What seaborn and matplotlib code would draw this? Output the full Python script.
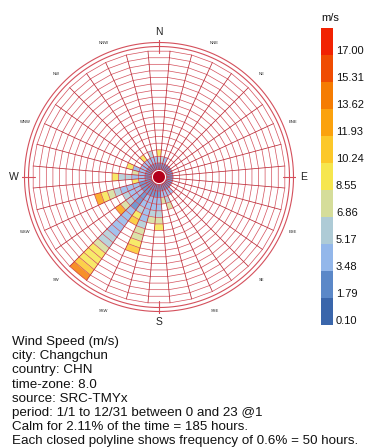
import numpy as np
import matplotlib
matplotlib.use("Agg")
import matplotlib.pyplot as plt
import seaborn as sns

# wind directions (bin centres, degrees clockwise from N)
directions = list(range(0, 360, 10))

# mean wind speed (m/s) of each 50-hour cell, stacked outward from the calm circle
cell_speeds = [
    [2.5, 4.5, 8.5],                      # 0
    [2.0, 5.5],                           # 10
    [1.8, 4.0],                           # 20
    [2.0], [2.0], [1.5], [1.5], [1.8],    # 30-70
    [2.0], [2.0], [2.0], [1.8], [2.0],    # 80-120
    [2.0],                                # 130
    [2.0, 3.5],                           # 140
    [2.0, 3.5],                           # 150
    [1.8, 3.2, 5.0, 7.5],                 # 160
    [2.0, 3.8, 6.5],                      # 170
    [1.5, 2.5, 3.3, 4.0, 5.2, 6.8, 8.5],  # 180
    [1.5, 2.5, 3.3, 4.2, 5.5, 7.5],       # 190
    [1.2, 2.0, 2.8, 3.3, 3.8, 4.3, 5.2, 6.2, 7.0, 8.5, 10.0],  # 200
    [1.2, 2.0, 2.8, 3.5, 4.5, 8.0, 11.0],  # 210
    [1.0, 1.4, 1.8, 2.2, 2.6, 3.0, 3.3, 3.6, 3.9, 4.3, 4.8, 5.5,
     6.8, 8.0, 8.6, 9.0, 11.0, 14.0],     # 220
    [1.2, 2.0, 2.8, 3.5, 4.5, 7.0, 11.5],  # 230
    [1.5, 2.5, 3.3, 4.2, 5.5],            # 240
    [1.2, 2.0, 2.8, 3.5, 4.2, 5.0, 6.5, 8.5, 11.5],  # 250
    [2.0, 3.5, 8.0],                      # 260
    [1.8, 2.8, 3.5, 4.5, 6.0, 8.5],       # 270
    [2.0, 4.0, 6.5],                      # 280
    [2.0, 3.0, 4.0, 9.0],                 # 290
    [2.0, 3.5],                           # 300
    [2.0, 4.0],                           # 310
    [2.0, 3.5, 8.0],                      # 320
    [2.0, 4.0],                           # 330
    [2.0, 4.0, 6.0],                      # 340
    [2.0, 4.0],                           # 350
]

legend_values = [0.10, 1.79, 3.48, 5.17, 6.86, 8.55, 10.24, 11.93, 13.62, 15.31, 17.00]
legend_colors = ['#3a66ab', '#5b88c8', '#93b7ea', '#aecbd6', '#d5dd9a', '#f6e64e',
                 '#fcc82a', '#fba20e', '#f57c02', '#ef4c02', '#f12202']

compass_labels = ['N', 'NNE', 'NE', 'ENE', 'E', 'ESE', 'SE', 'SSE',
                  'S', 'SSW', 'SW', 'WSW', 'W', 'WNW', 'NW', 'NNW']

info_lines = [
    'Wind Speed (m/s)',
    'city: Changchun',
    'country: CHN',
    'time-zone: 8.0',
    'source: SRC-TMYx',
    'period: 1/1 to 12/31 between 0 and 23 @1',
    'Calm for 2.11% of the time = 185 hours.',
    'Each closed polyline shows frequency of 0.6% = 50 hours.',
]

sns.set_style("white")
plt.rcParams['font.family'] = ['Liberation Sans', 'DejaVu Sans']
palette = sns.color_palette(legend_colors)
# cells inside the rose look a little washed out
cell_palette = [tuple(0.85 * np.array(c) + 0.15) for c in palette]

W, H = 387, 448
fig = plt.figure(figsize=(W / 100, H / 100), dpi=100)

# geometry in pixels -> ring units
ring_px = 6.6
cx, cy = 159, 177
r_out_px = 137
hole = 7.5 / ring_px
n_rings = 18
rmax = r_out_px / ring_px

ax = fig.add_axes([(cx - r_out_px) / W, (H - cy - r_out_px) / H,
                   2 * r_out_px / W, 2 * r_out_px / H], projection='polar')
ax.set_theta_zero_location('N')
ax.set_theta_direction(-1)
ax.set_ylim(0, rmax)
ax.set_axis_off()

# stacked cells
thetas, bottoms, cols = [], [], []
for d, speeds in zip(directions, cell_speeds):
    for i, v in enumerate(speeds):
        k = int(np.clip(round((v - legend_values[0]) / (legend_values[1] - legend_values[0])), 0, 10))
        thetas.append(np.radians(d))
        bottoms.append(hole + i)
        cols.append(cell_palette[k])
ax.bar(thetas, 1, width=np.radians(10), bottom=bottoms, color=cols,
       edgecolor='none', linewidth=0, zorder=1)

ring_red = '#d4505c'
spoke_red = '#bb2a36'
edges = np.radians(np.arange(5, 366, 10))
for i in range(n_rings + 1):
    ax.plot(edges, np.full(edges.size, hole + i), color=ring_red, lw=0.5, zorder=3)
for e in edges[:-1]:
    ax.plot([e, e], [hole, hole + n_rings], color=spoke_red, lw=0.55, zorder=3)

circ = np.linspace(0, 2 * np.pi, 361)
for rp in (130.5, 134.5):
    ax.plot(circ, np.full(circ.size, rp / ring_px), color=ring_red, lw=0.8, zorder=3)
for t in np.radians([0, 90, 180, 270]):
    ax.plot([t, t], [124 / ring_px, 141 / ring_px], color=ring_red, lw=0.8, zorder=3)

# calm circle
ax.bar(0, 6 / ring_px, width=2 * np.pi, bottom=0, color='#b3001b', edgecolor='none', zorder=4)

for j, lab in enumerate(compass_labels):
    big = j % 4 == 0
    ax.text(np.radians(j * 22.5), 145 / ring_px, lab, ha='center', va='center',
            fontsize=7.5 if big else 3, color='#222222', clip_on=False)

# legend
lax = fig.add_axes([321 / W, (H - 325) / H, 12 / W, 297 / H])
lax.bar(np.zeros(len(legend_colors)), 1, bottom=np.arange(len(legend_colors)),
        width=1, color=palette, align='edge', edgecolor='none')
lax.set_xlim(0, 1)
lax.set_ylim(0, len(legend_colors))
lax.set_axis_off()
for k, val in enumerate(legend_values):
    lax.text(1.25, k + 0.15, f'{val:.2f}', transform=lax.get_yaxis_transform(),
             va='center', ha='left', fontsize=8, color='#111111')
fig.text(321 / W, 1 - 18 / H, 'm/s', va='center', ha='left', fontsize=8, color='#111111')

for i, line in enumerate(info_lines):
    fig.text(12 / W, 1 - (342 + 14.2 * i) / H, line, va='center', ha='left',
             fontsize=9.6, color='#111111')

fig.savefig('out.png', dpi=100)
